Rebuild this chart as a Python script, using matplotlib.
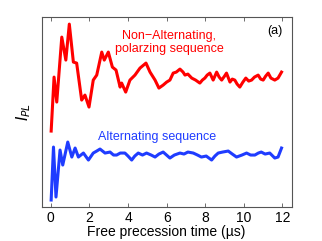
import numpy as np
import matplotlib
matplotlib.use("Agg")
import matplotlib.pyplot as plt

plt.rcParams['font.family'] = ['Liberation Sans', 'DejaVu Sans']

# red trace: non-alternating, polarizing sequence
t_red = [0.02, 0.17, 0.31, 0.57, 0.78, 0.96, 1.17, 1.34, 1.6, 1.77, 1.98, 2.2, 2.38,
         2.64, 2.77, 2.98, 3.19, 3.38, 3.59, 3.67, 3.88, 4.1, 4.36, 4.62, 4.93, 5.14,
         5.4, 5.6, 5.82, 6.0, 6.17, 6.34, 6.5, 6.69, 6.85, 6.95, 7.1, 7.3, 7.5, 7.72,
         7.85, 7.98, 8.1, 8.24, 8.41, 8.59, 8.72, 8.85, 9.0, 9.1, 9.28, 9.4, 9.53,
         9.65, 9.79, 9.95, 10.1, 10.25, 10.4, 10.55, 10.74, 10.87, 11.0, 11.13, 11.26,
         11.4, 11.6, 11.77, 11.95]
y_red = [131, 77, 102, 37, 60, 24, 62, 63, 100, 95, 107, 80, 75,
         52, 60, 52, 67, 70, 87, 83, 92, 80, 75, 68, 63, 72,
         80, 88, 85, 82, 80, 73, 72, 69, 72, 75, 74, 78, 80, 83,
         80, 78, 75, 73, 80, 72, 77, 80, 76, 73, 82, 79, 80,
         84, 87, 82, 78, 81, 80, 77, 75, 79, 80, 76, 73,
         78, 80, 78, 72]

# blue trace: alternating sequence
t_blue = [0.02, 0.14, 0.27, 0.48, 0.62, 0.88, 1.09, 1.26, 1.43, 1.69, 1.95, 2.2, 2.38,
          2.55, 2.81, 3.07, 3.25, 3.41, 3.6, 3.84, 4.0, 4.19, 4.35, 4.53, 4.75, 4.96,
          5.2, 5.4, 5.6, 5.82, 6.17, 6.4, 6.69, 6.9, 7.1, 7.38, 7.6, 7.8, 8.05, 8.33,
          8.5, 8.67, 8.9, 9.19, 9.4, 9.62, 9.9, 10.14, 10.35, 10.57, 10.75, 10.9,
          11.1, 11.34, 11.6, 11.77, 11.95]
y_blue = [200, 147, 197, 150, 165, 142, 157, 148, 157, 153, 160, 153, 151,
          149, 153, 152, 155, 155, 153, 153, 156, 160, 156, 153, 155, 153,
          155, 157, 154, 152, 158, 155, 153, 154, 152, 153, 155, 157, 156, 160,
          156, 153, 152, 151, 154, 157, 155, 153, 155, 155, 153, 152,
          154, 153, 158, 157, 148]

x_ticks = [0, 2, 4, 6, 8, 10, 12]


def to_val(ypx):
    return (207 - np.array(ypx, dtype=float)) / 190.0


fig = plt.figure(figsize=(3.22, 2.41), dpi=100)
ax = fig.add_axes([0.1295, 0.141, 0.776, 0.788])

ax.plot(t_red, to_val(y_red), color='#ff0000', lw=2.2, solid_joinstyle='round')
ax.plot(t_blue, to_val(y_blue), color='#1f3cff', lw=2.2, solid_joinstyle='round')

ax.set_xlim(-0.47, 12.47)
ax.set_ylim(0, 1)
ax.set_xticks(x_ticks)
ax.set_yticks([])
ax.tick_params(axis='x', direction='in', top=True, length=3, width=0.6,
               color='#555555', labelsize=10, pad=3)
for s in ax.spines.values():
    s.set_color('#555555')
    s.set_linewidth(0.8)

ax.set_xlabel('Free precession time (\u00b5s)', fontsize=10, labelpad=0)
ax.set_ylabel('$I_{PL}$', fontsize=11, labelpad=6)

ax.text(0.51, 0.866, 'Non\u2212Alternating,\npolarzing sequence', transform=ax.transAxes,
        color='#ff0000', fontsize=9, ha='center', va='center', linespacing=1.15)
ax.text(0.965, 0.925, '(a)', transform=ax.transAxes, fontsize=9, ha='right', va='center')
ax.text(0.46, 0.371, 'Alternating sequence', transform=ax.transAxes,
        color='#1f3cff', fontsize=9, ha='center', va='center')

fig.savefig('out.png', dpi=100)
